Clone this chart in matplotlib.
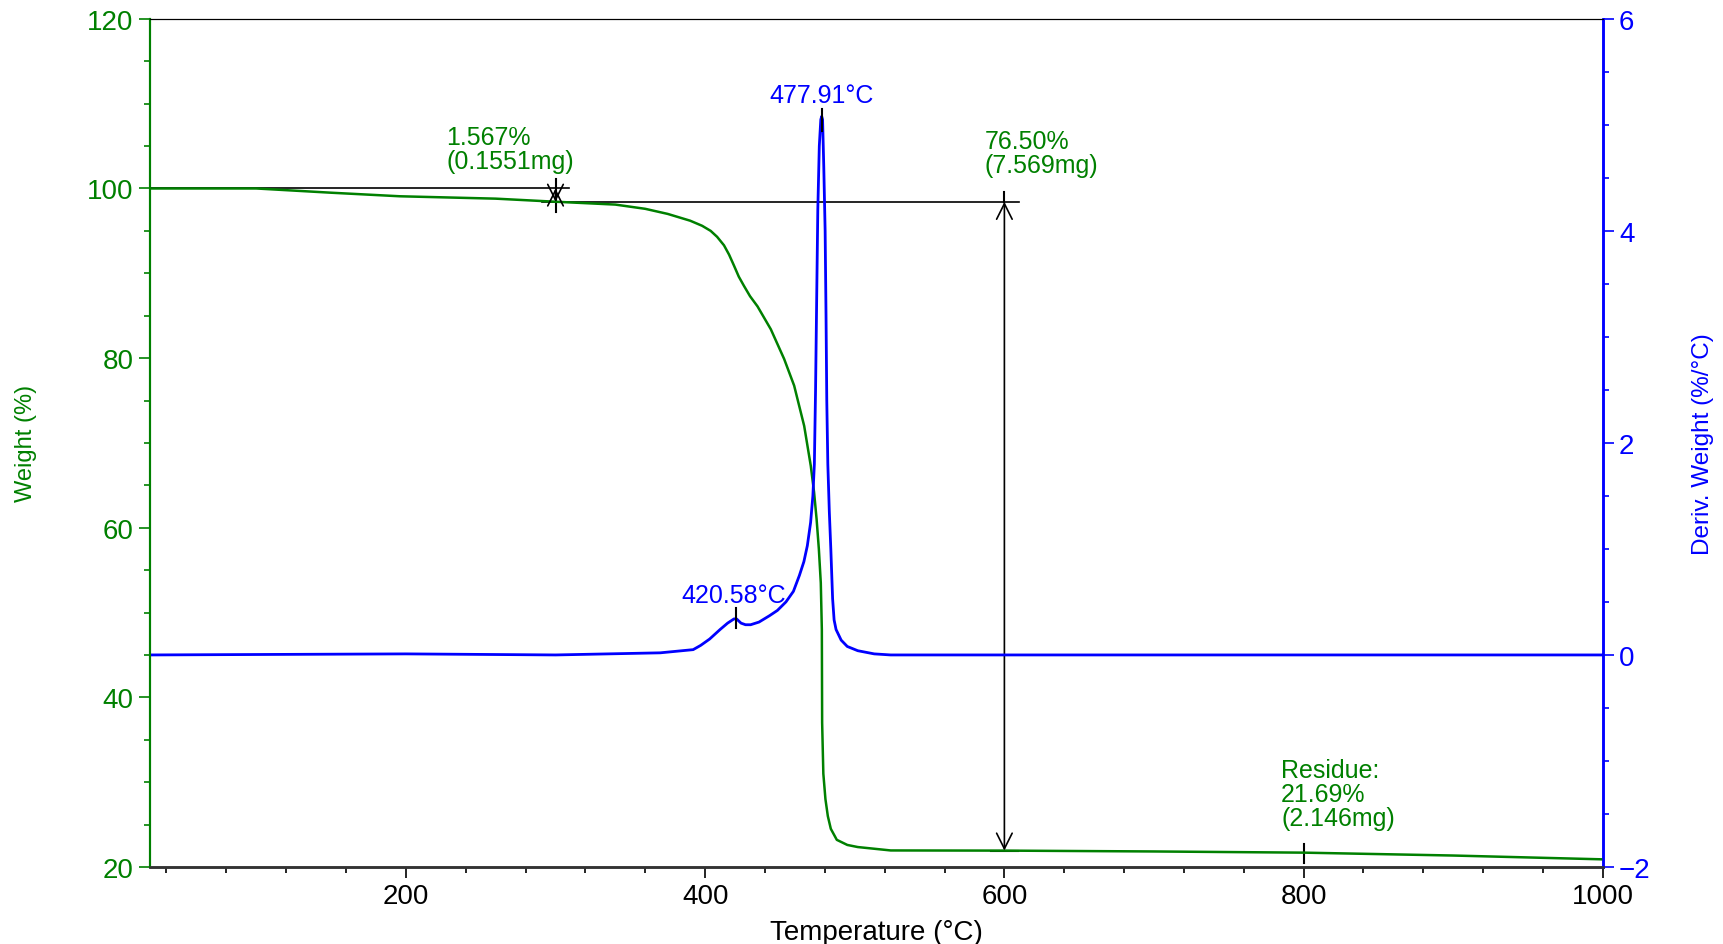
import matplotlib.pyplot as plt
import numpy as np
from matplotlib.ticker import MultipleLocator

plt.rcParams['font.family'] = ['Liberation Sans', 'DejaVu Sans']

verde = '#008000'
azul = '#0000ff'

# curva de perda de massa (TGA)
temp_w = [29, 100, 150, 196, 260, 298.5, 340, 360, 375, 390, 398, 403.7, 408, 412.6, 416,
          419.3, 422.5, 426, 430, 435, 443.9, 452.8, 459.5, 466.2, 470.6, 472.8, 474.5, 476,
          477.3, 478, 478.2, 479, 480.4, 482, 484, 488, 495, 502, 524, 600, 700, 800, 900, 1000]
peso = [100.0, 100.0, 99.5, 99.08, 98.8, 98.45, 98.1, 97.6, 97.0, 96.2, 95.6, 95.0, 94.3, 93.3,
        92.2, 90.9, 89.6, 88.5, 87.3, 86.1, 83.4, 79.9, 76.75, 72.0, 67.3, 64.2, 61.0, 57.5,
        53.5, 48.0, 37.0, 31.0, 28.0, 26.0, 24.5, 23.2, 22.6, 22.35, 21.95, 21.93, 21.83, 21.69,
        21.35, 20.9]

# curva derivada (DTG)
temp_d = [29, 200, 300, 370, 392, 397, 403, 410, 415, 419.3, 421, 424, 427, 430.4, 436, 443,
          448.3, 454, 459, 463, 466, 468.3, 470.5, 472, 473, 473.8, 474.5, 475.3, 476.3, 477.3,
          477.9, 478.5, 479.3, 480.2, 480.8, 481.3, 482, 483, 484, 485.2, 486.2, 487.5, 490.9,
          495, 502, 513, 524, 600, 800, 1000]
deriv = [0.0, 0.01, 0.0, 0.02, 0.05, 0.09, 0.15, 0.24, 0.3, 0.34, 0.34, 0.3, 0.285, 0.285, 0.31,
         0.37, 0.42, 0.5, 0.6, 0.75, 0.88, 1.03, 1.25, 1.5, 1.8, 2.5, 3.3, 4.2, 4.8, 5.05,
         5.08, 5.05, 4.6, 4.0, 3.2, 2.4, 1.8, 1.35, 1.0, 0.53, 0.33, 0.24, 0.14,
         0.08, 0.04, 0.01, 0.0, 0.0, 0.0, 0.0]

fig = plt.figure(figsize=(17.23, 9.45), dpi=100)
ax = fig.add_axes([0.0868, 0.0815, 0.8435, 0.8975])
ax2 = ax.twinx()

ax.plot(temp_w, peso, color=verde, lw=1.8, zorder=3)
ax2.plot(temp_d, deriv, color=azul, lw=2.0)

ax.set_xlim(28.7, 1000)
ax.set_ylim(20, 120)
ax2.set_ylim(-2, 6)

ax.xaxis.set_major_locator(MultipleLocator(200))
ax.xaxis.set_minor_locator(MultipleLocator(40))
ax.yaxis.set_major_locator(MultipleLocator(20))
ax.yaxis.set_minor_locator(MultipleLocator(5))
ax2.yaxis.set_major_locator(MultipleLocator(2))
ax2.yaxis.set_minor_locator(MultipleLocator(0.5))

ax.tick_params(axis='x', which='major', length=8, width=1.2, labelsize=20, colors='black')
ax.tick_params(axis='x', which='minor', length=4, width=1.2)
ax.tick_params(axis='y', which='major', length=8, width=1.2, labelsize=20, colors=verde)
ax.tick_params(axis='y', which='minor', length=4, width=1.2, colors=verde)
ax2.tick_params(axis='y', which='major', length=8, width=1.2, labelsize=20, colors=azul)
ax2.tick_params(axis='y', which='minor', length=4, width=1.2, colors=azul)

for a in (ax, ax2):
    a.spines['left'].set_color(verde)
    a.spines['right'].set_color(azul)
    a.spines['bottom'].set_color('#333333')
    a.spines['top'].set_color('black')
    a.spines['left'].set_linewidth(1.5)
    a.spines['right'].set_linewidth(1.8)
    a.spines['bottom'].set_linewidth(1.8)

ax.set_xlabel('Temperature (°C)', fontsize=20, labelpad=7)
ax.set_ylabel('Weight (%)', fontsize=17, color=verde)
ax.yaxis.set_label_coords(-0.0774, 0.5)
ax2.set_ylabel('Deriv. Weight (%/°C)', fontsize=17.5, color=azul)
ax2.yaxis.set_label_coords(1.0612, 0.5)

# anotacoes de perda de massa
ax.plot([28.7, 308.8], [100, 100], color='black', lw=1.2)
ax.plot([291, 609.6], [98.43, 98.43], color='black', lw=1.2)
ax.plot([300, 300], [97.2, 101.1], color='black', lw=1.5)
ax.annotate('', xy=(300, 98.43), xytext=(300, 100),
            arrowprops=dict(arrowstyle='<->', color='black', lw=1.2, shrinkA=0, shrinkB=0,
                            mutation_scale=28))
ax.text(227, 107.5, '1.567%\n(0.1551mg)', color=verde, fontsize=18, va='top', ha='left',
        linespacing=1.0)

ax.plot([600, 600], [98.43, 99.6], color='black', lw=1.5)
ax.annotate('', xy=(600, 21.93), xytext=(600, 98.43),
            arrowprops=dict(arrowstyle='<->', color='black', lw=1.2, shrinkA=0, shrinkB=0,
                            mutation_scale=28))
ax.plot([591, 609], [21.93, 21.93], color='black', lw=1.5)
ax.text(587, 107.0, '76.50%\n(7.569mg)', color=verde, fontsize=18, va='top', ha='left',
        linespacing=1.0)

ax.plot([800, 800], [20.5, 22.7], color='black', lw=1.5)
ax.text(785, 32.8, 'Residue:\n21.69%\n(2.146mg)', color=verde, fontsize=18, va='top',
        ha='left', linespacing=1.0)

# picos da derivada
ax2.plot([420.58, 420.58], [0.25, 0.44], color='black', lw=1.5)
ax2.text(419, 0.45, '420.58°C', color=azul, fontsize=18, ha='center', va='bottom')
ax2.plot([477.91, 477.91], [4.94, 5.15], color='black', lw=1.5)
ax2.text(478, 5.17, '477.91°C', color=azul, fontsize=18, ha='center', va='bottom')

plt.savefig('out.png', dpi=100)
